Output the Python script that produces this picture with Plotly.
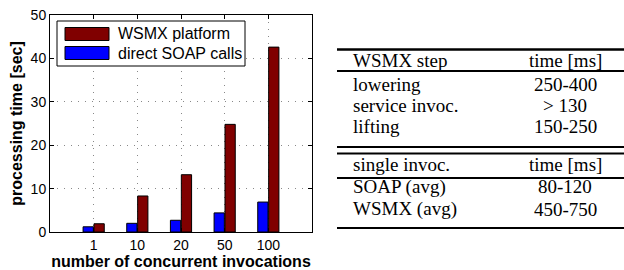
import plotly.graph_objects as go

W, H = 624, 270

categories = ["1", "10", "20", "50", "100"]
wsmx_platform = [1.9, 8.3, 13.2, 24.8, 42.6]
direct_soap = [1.2, 2.0, 2.7, 4.4, 6.9]
series_names = ["WSMX platform", "direct SOAP calls"]
series_colors = ["#800000", "#0000ff"]

table_header1 = ["WSMX step", "time [ms]"]
table_rows1 = [["lowering", "250-400"], ["service invoc.", "> 130"], ["lifting", "150-250"]]
table_header2 = ["single invoc.", "time [ms]"]
table_rows2 = [["SOAP (avg)", "80-120"], ["WSMX (avg)", "450-750"]]

xpos = list(range(1, len(categories) + 1))

def px(x):
    return x / W

def py(y):
    return 1 - y / H

fig = go.Figure()
fig.add_trace(go.Bar(x=xpos, y=direct_soap, name=series_names[1],
                     marker=dict(color=series_colors[1], line=dict(color="black", width=1)),
                     showlegend=False))
fig.add_trace(go.Bar(x=xpos, y=wsmx_platform, name=series_names[0],
                     marker=dict(color=series_colors[0], line=dict(color="black", width=1)),
                     showlegend=False))

sans = "Liberation Sans, Arial, sans-serif"
axis_font = dict(family=sans, size=14, color="black")
title_font = dict(family=sans, size=16, color="black")

fig.update_layout(
    width=W, height=H,
    margin=dict(l=0, r=0, t=0, b=0, autoexpand=False),
    plot_bgcolor="white", paper_bgcolor="white",
    barmode="group", bargap=0.5, bargroupgap=0.06,
    showlegend=False,
    xaxis=dict(domain=[px(50), px(312)], range=[0, 6], automargin=False,
               tickmode="array", tickvals=xpos, ticktext=categories,
               ticks="inside", ticklen=4, tickcolor="black",
               showline=True, linecolor="black", linewidth=1, mirror="ticks",
               showgrid=True, gridcolor="#888", griddash="1px,6px", gridwidth=1,
               zeroline=False, tickfont=axis_font,
               title=dict(text="<b>number of concurrent invocations</b>", font=title_font, standoff=2)),
    yaxis=dict(domain=[py(232), py(15)], range=[0, 50], dtick=10, automargin=False,
               ticks="inside", ticklen=4, tickcolor="black",
               showline=True, linecolor="black", linewidth=1, mirror="ticks",
               showgrid=True, gridcolor="#888", griddash="1px,6px", gridwidth=1,
               zeroline=False, tickfont=axis_font,
               title=dict(text="<b>processing time [sec]</b>", font=title_font, standoff=4)),
)

# legend box (drawn to match the reference's wide swatches)
fig.add_shape(type="rect", xref="paper", yref="paper",
              x0=px(57), x1=px(245), y0=py(66), y1=py(21),
              line=dict(color="black", width=1), fillcolor="white", layer="above")
for i, (nm, col) in enumerate(zip(series_names, series_colors)):
    cy = 34 + 19 * i
    fig.add_shape(type="rect", xref="paper", yref="paper",
                  x0=px(65), x1=px(109), y0=py(cy + 6.5), y1=py(cy - 6.5),
                  line=dict(color="black", width=1), fillcolor=col, layer="above")
    fig.add_annotation(x=px(116), y=py(cy), xref="paper", yref="paper", text=nm,
                       showarrow=False, xanchor="left", yanchor="middle",
                       font=dict(family=sans, size=16, color="black"))

# table rules
line_specs = [(49.5, 2.4), (71, 2.2), (147, 2.2), (153.5, 2.2), (178, 1.8), (228, 2.2)]
for yy, lw in line_specs:
    fig.add_shape(type="line", xref="paper", yref="paper",
                  x0=px(337), x1=px(624), y0=py(yy), y1=py(yy),
                  line=dict(color="black", width=lw))

serif = dict(family="Liberation Serif, Times New Roman, serif", size=19, color="black")
baselines = [66, 90, 111.5, 133, 170, 192.5, 215]
rows = [table_header1] + table_rows1 + [table_header2] + table_rows2
for (left, right), b in zip(rows, baselines):
    yc = py(b - 6)
    fig.add_annotation(x=px(352), y=yc, xref="paper", yref="paper", text=left,
                       showarrow=False, xanchor="left", yanchor="middle", font=serif,
                       borderpad=0)
    fig.add_annotation(x=px(565), y=yc, xref="paper", yref="paper", text=right,
                       showarrow=False, xanchor="center", yanchor="middle", font=serif,
                       borderpad=0)

fig.write_html("out.html", config={"displayModeBar": False},
               post_script="document.body.style.margin='0';document.body.style.overflow='hidden';")
